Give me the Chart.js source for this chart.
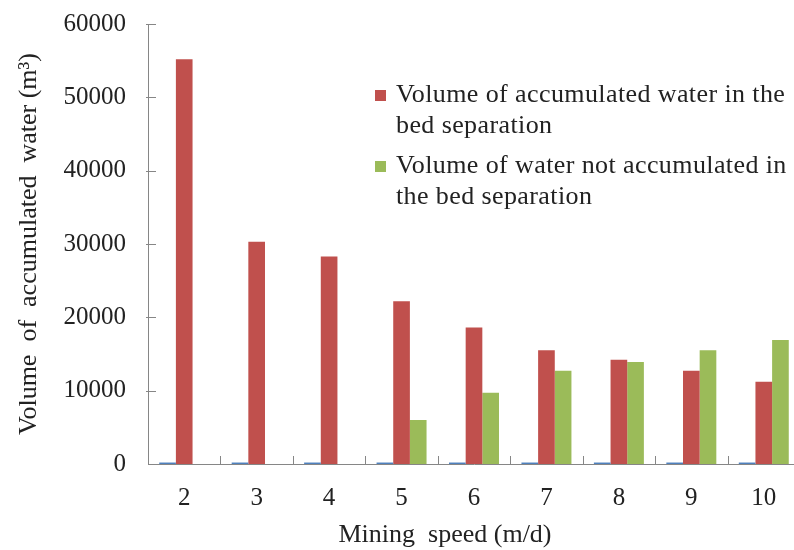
<!DOCTYPE html>
<html>
<head>
<meta charset="utf-8">
<script src="https://cdn.jsdelivr.net/npm/chart.js@4.4.1/dist/chart.umd.min.js"></script>
<style>
  html, body { margin: 0; padding: 0; overflow: hidden; background: #fff; }
  #wrap { position: relative; width: 830px; height: 550px; }
  #legend { position: absolute; left: 375px; top: 0; font-family: "Liberation Serif", serif;
            font-size: 26px; color: #222; letter-spacing: 0.4px; }
  .item { position: absolute; left: 0; white-space: nowrap; }
  .box { position: absolute; left: 0; width: 11px; height: 11px; }
  .txt { position: absolute; left: 21px; line-height: 30.5px; }
</style>
</head>
<body>
<div id="wrap">
  <canvas id="mycanvas"></canvas>
  <div id="legend"></div>
</div>
<script>
var speeds = ['2', '3', '4', '5', '6', '7', '8', '9', '10'];
var baseVolume = [200, 200, 200, 200, 200, 200, 200, 200, 200];
var accumulated = [55200, 30300, 28300, 22200, 18600, 15500, 14200, 12700, 11200];
var notAccumulated = [0, 0, 0, 6000, 9700, 12700, 13900, 15500, 16900];
var yTicks = [0, 10000, 20000, 30000, 40000, 50000, 60000];

var accumulatedName = ['Volume of accumulated water in the', 'bed separation'];
var notAccumulatedName = ['Volume of water not accumulated in', 'the bed separation'];
var xTitle = 'Mining  speed (m/d)';

var axisGray = '#868686';
var serif = '"Liberation Serif", "Times New Roman", serif';

// short tick marks drawn inside the plot, and the x title (off centre in the original)
var innerTicks = {
	id: 'innerTicks',
	afterDraw: function(chart) {
		var ctx = chart.ctx;
		var x = chart.scales.x, y = chart.scales.y;
		var area = chart.chartArea;
		ctx.save();
		ctx.strokeStyle = axisGray;
		ctx.lineWidth = 1;
		ctx.beginPath();
		for (var i = 0; i < speeds.length - 1; i++) {
			var px = Math.round((x.getPixelForValue(i) + x.getPixelForValue(i + 1)) / 2) + 0.5;
			ctx.moveTo(px, area.bottom);
			ctx.lineTo(px, area.bottom - 8);
		}
		for (var j = 1; j < yTicks.length; j++) {
			var py = Math.round(y.getPixelForValue(yTicks[j])) + 0.5;
			ctx.moveTo(area.left - 2, py);
			ctx.lineTo(area.left + 8, py);
		}
		ctx.stroke();

		ctx.fillStyle = '#222';
		ctx.font = '26px ' + serif;
		ctx.textAlign = 'center';
		ctx.textBaseline = 'alphabetic';
		ctx.fillText(xTitle, area.left + 297, area.bottom + 78);
		ctx.restore();
	}
};

var chartdata = {
	labels: speeds,
	datasets: [
		{
			label: 'base',
			backgroundColor: '#4F81BD',
			data: baseVolume,
			inLegend: false
		},
		{
			label: accumulatedName.join(' '),
			lines: accumulatedName,
			backgroundColor: '#C0504D',
			data: accumulated,
			inLegend: true
		},
		{
			label: notAccumulatedName.join(' '),
			lines: notAccumulatedName,
			backgroundColor: '#9BBB59',
			data: notAccumulated,
			inLegend: true
		}
	]
};

var ctx = document.getElementById('mycanvas');
ctx.width = 830;
ctx.height = 550;

var BarGraph = new Chart(ctx, {
	type: 'bar',
	data: chartdata,
	options: {
		responsive: false,
		animation: false,
		layout: { padding: { top: 0, right: 30, bottom: 0, left: 0 } },
		datasets: { bar: { categoryPercentage: 0.69, barPercentage: 1.0, borderWidth: 0 } },
		plugins: {
			legend: { display: false },
			tooltip: { enabled: false }
		},
		scales: {
			x: {
				grid: { display: false, drawTicks: false },
				border: { display: true, color: axisGray, width: 1 },
				ticks: { color: '#222', padding: 19, font: { family: serif, size: 25 } },
				title: { display: false },
				afterFit: function(scale) { scale.height = 86; }
			},
			y: {
				min: 0, max: 60000,
				afterBuildTicks: function(scale) {
					scale.ticks = yTicks.map(function(v) { return { value: v }; });
				},
				grid: { display: false, drawTicks: false },
				border: { display: true, color: axisGray, width: 1 },
				ticks: {
					color: '#222', padding: 22, font: { family: serif, size: 25 },
					callback: function(v) { return String(v); }
				},
				title: {
					display: true, text: 'Volume  of  accumulated  water (m³)', color: '#222',
					padding: { top: 14, bottom: 0 }, font: { family: serif, size: 26 }
				},
				afterFit: function(scale) {
					scale.width = 148;
					scale.paddingTop = 24;
					scale.paddingBottom = 0;
				}
			}
		}
	},
	plugins: [innerTicks]
});

// legend built from the datasets, text wrapped on two lines like the original
var legend = document.getElementById('legend');
var tops = [79, 150];
var k = 0;
BarGraph.data.datasets.forEach(function(ds) {
	if (!ds.inLegend) return;
	var item = document.createElement('div');
	item.className = 'item';
	item.style.top = tops[k] + 'px';
	var box = document.createElement('div');
	box.className = 'box';
	box.style.background = ds.backgroundColor;
	box.style.top = '11px';
	var txt = document.createElement('div');
	txt.className = 'txt';
	txt.innerHTML = ds.lines.join('<br>');
	item.appendChild(box);
	item.appendChild(txt);
	legend.appendChild(item);
	k++;
});
</script>
</body>
</html>
